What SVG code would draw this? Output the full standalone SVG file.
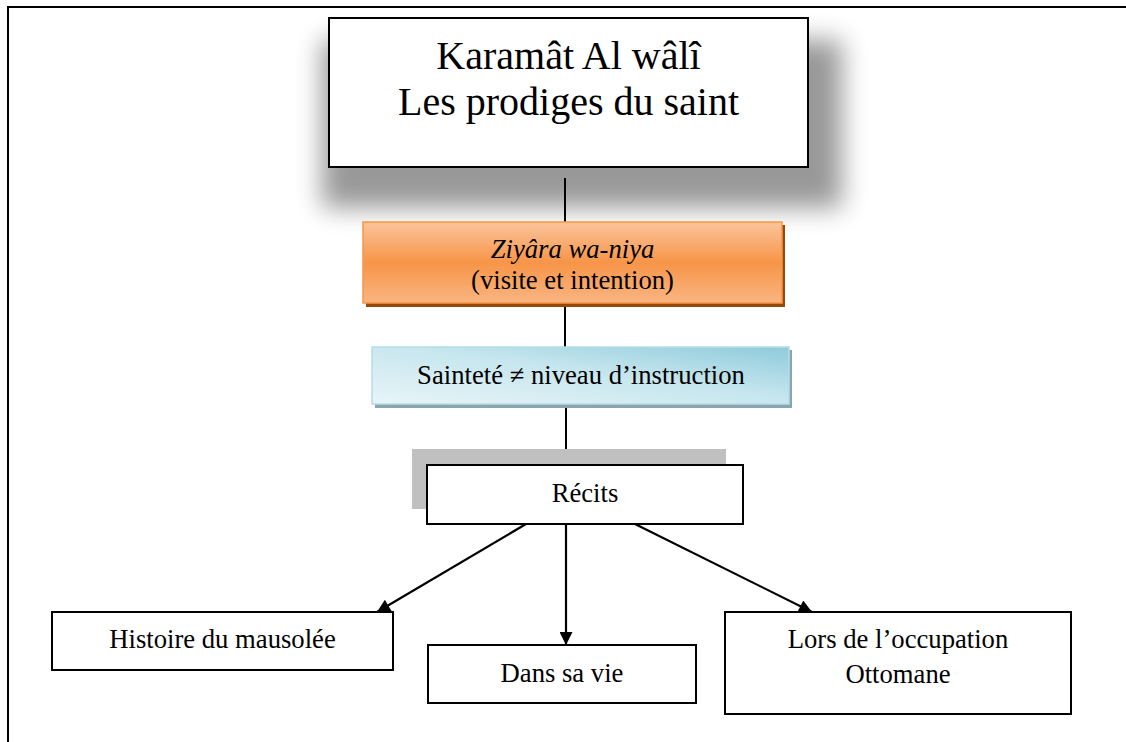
<svg xmlns="http://www.w3.org/2000/svg" width="1126" height="742" viewBox="0 0 1126 742">
  <defs>
    <style>
      text { font-family: "Liberation Serif", "Times New Roman", serif; fill: #000; text-anchor: middle; }
      .lbl { font-size: 26.67px; }
      .title { font-size: 40px; }
      .box { fill: #fff; stroke: #000; stroke-width: 2; }
      .conn { stroke: #000; stroke-width: 2; fill: none; }
      .arrow { stroke: #000; stroke-width: 2.2; fill: none; marker-end: url(#head); }
    </style>
    <marker id="head" viewBox="0 0 10 10" refX="10" refY="5" markerUnits="userSpaceOnUse" markerWidth="15" markerHeight="13" orient="auto">
      <path d="M0,0 L10,5 L0,10 Z" fill="#000"/>
    </marker>
    <filter id="soft" x="-20%" y="-30%" width="140%" height="160%">
      <feGaussianBlur stdDeviation="13"/>
    </filter>
    <linearGradient id="orange" x1="0" y1="0" x2="0" y2="1">
      <stop offset="0" stop-color="#fbc49c"/>
      <stop offset="0.5" stop-color="#f79548"/>
      <stop offset="1" stop-color="#f9b582"/>
    </linearGradient>
    <linearGradient id="blue" x1="0" y1="1" x2="1" y2="0">
      <stop offset="0" stop-color="#e8f5f8"/>
      <stop offset="0.55" stop-color="#c6e6ee"/>
      <stop offset="1" stop-color="#8ecbdb"/>
    </linearGradient>
  </defs>

  <rect width="1126" height="742" fill="#fff"/>

  <!-- page frame -->
  <rect x="8" y="7" width="1200" height="800" fill="none" stroke="#000" stroke-width="2"/>

  <!-- connectors -->
  <g id="connectors">
    <line class="conn" x1="565" y1="178" x2="565" y2="222"/>
    <line class="conn" x1="565" y1="303" x2="565" y2="347"/>
    <line class="conn" x1="566" y1="404" x2="566" y2="465"/>
    <line class="arrow" x1="526" y1="524" x2="377" y2="612"/>
    <line class="arrow" x1="566" y1="524" x2="566" y2="645"/>
    <line class="arrow" x1="635" y1="524" x2="812" y2="612"/>
  </g>

  <!-- title -->
  <g id="node-title">
    <rect x="322" y="40" width="520" height="168" fill="#000" opacity="0.4" filter="url(#soft)"/>
    <rect class="box" x="329" y="18" width="479" height="149" stroke-width="2.5"/>
    <text class="title" x="568.5" y="69">Karamât Al wâlî</text>
    <text class="title" x="568.5" y="115">Les prodiges du saint</text>
  </g>

  <!-- visit and intention -->
  <g id="node-ziyara">
    <rect x="366" y="225" width="419" height="82" fill="#984807"/>
    <rect x="363" y="222" width="419" height="81" fill="url(#orange)" stroke="#f79646" stroke-width="1.5"/>
    <text class="lbl" x="572.5" y="258" font-style="italic">Ziyâra wa-niya</text>
    <text class="lbl" x="572.5" y="289">(visite et intention)</text>
  </g>

  <!-- holiness vs education -->
  <g id="node-saintete">
    <rect x="375" y="350" width="417" height="58" fill="#8aa5ad"/>
    <rect x="372" y="347" width="417" height="57" fill="url(#blue)" stroke="#b7dde8" stroke-width="1.5"/>
    <text class="lbl" x="581" y="384">Sainteté ≠ niveau d’instruction</text>
  </g>

  <!-- stories -->
  <g id="node-recits">
    <rect x="412" y="449" width="314" height="60" fill="#c0c0c0"/>
    <rect class="box" x="427" y="465" width="316" height="59"/>
    <text class="lbl" x="585" y="502">Récits</text>
  </g>

  <g id="node-histoire">
    <rect class="box" x="52" y="612" width="341" height="58"/>
    <text class="lbl" x="222.5" y="648">Histoire du mausolée</text>
  </g>

  <g id="node-vie">
    <rect class="box" x="428" y="645" width="268" height="58"/>
    <text class="lbl" x="562" y="682">Dans sa vie</text>
  </g>

  <g id="node-ottomane">
    <rect class="box" x="725" y="612" width="346" height="102"/>
    <text class="lbl" x="898" y="648">Lors de l’occupation</text>
    <text class="lbl" x="898" y="683">Ottomane</text>
  </g>
</svg>
